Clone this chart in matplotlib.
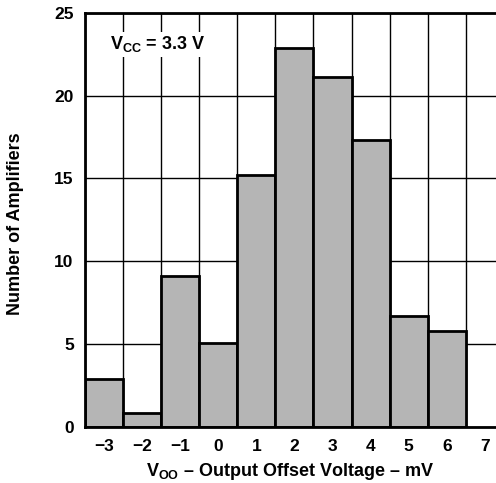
import matplotlib
matplotlib.use('Agg')
import matplotlib.pyplot as plt
import numpy as np

# histogram data
offset_mv = [-3, -2, -1, 0, 1, 2, 3, 4, 5, 6]
n_amps = [2.9, 0.8, 9.1, 5.05, 15.2, 22.9, 21.1, 17.3, 6.7, 5.8]
x_ticks = [-3, -2, -1, 0, 1, 2, 3, 4, 5, 6, 7]
y_ticks = [0, 5, 10, 15, 20, 25]

plt.rcParams['font.family'] = ['Liberation Sans Narrow', 'Liberation Sans', 'DejaVu Sans']
plt.rcParams['font.weight'] = 'bold'
plt.rcParams['mathtext.fontset'] = 'custom'
plt.rcParams['mathtext.rm'] = 'Liberation Sans:bold'
plt.rcParams['mathtext.bf'] = 'Liberation Sans:bold'
plt.rcParams['mathtext.default'] = 'bf'

fig = plt.figure(figsize=(4.96, 4.83), dpi=100)
ax = fig.add_axes([0.171, 0.1166, 0.845, 0.857])

ax.bar(offset_mv, n_amps, width=1.0, color='#b5b5b5', edgecolor='black',
       linewidth=2.0, zorder=3)

ax.set_xlim(-3.5, 7.5)
ax.set_ylim(0, 25)
ax.set_xticks(x_ticks)
ax.set_yticks(y_ticks)
ax.set_xticks(np.arange(-3.5, 7.6, 1), minor=True)
ax.grid(True, which='minor', axis='x', color='black', linewidth=1.0, zorder=1)
ax.grid(True, which='major', axis='y', color='black', linewidth=1.0, zorder=1)
ax.tick_params(which='both', length=0)
ax.tick_params(axis='x', pad=9, labelsize=12.5)
ax.tick_params(axis='y', pad=8, labelsize=12.5)
for s in ax.spines.values():
    s.set_linewidth(2.0)
    s.set_zorder(4)

ax.set_ylabel('Number of Amplifiers', fontsize=13, fontweight='bold', va='center')
ax.yaxis.set_label_coords(-0.166, 0.49)
ax.set_xlabel('V$_{OO}$ – Output Offset Voltage – mV', fontsize=13,
              fontweight='bold', va='center')
ax.xaxis.set_label_coords(0.49, -0.108)

ax.text(-2.85, 23.1, 'V$_{CC}$ = 3.3 V', fontsize=13, fontweight='bold',
        ha='left', va='center', zorder=5,
        bbox=dict(facecolor='white', edgecolor='none', pad=2))

fig.savefig('out.png', dpi=100)
